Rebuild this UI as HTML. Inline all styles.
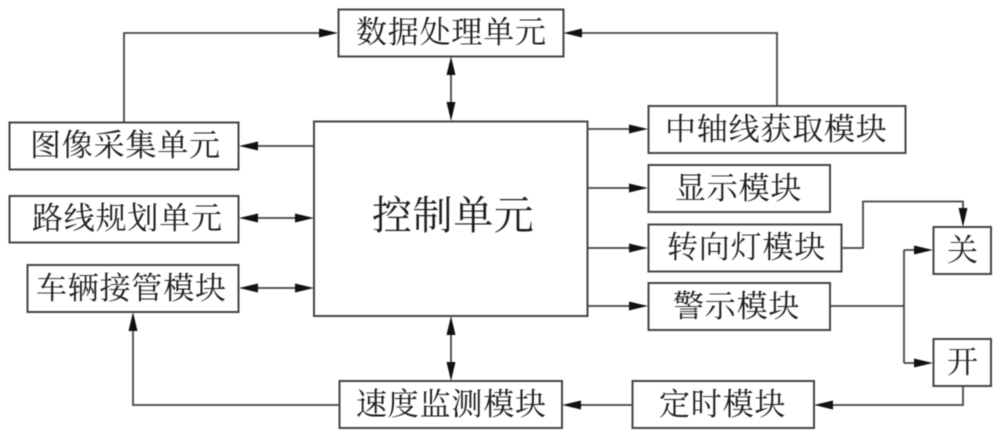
<!DOCTYPE html>
<html><head><meta charset="utf-8">
<style>
html,body{margin:0;padding:0;background:#fff;width:1000px;height:437px;overflow:hidden}
svg{display:block;filter:blur(0.45px)}
rect{fill:#fff;stroke:#444;stroke-width:2}
.l{fill:none;stroke:#444;stroke-width:1.8}
.a{fill:#111;stroke:none}
text{font-family:"Liberation Serif","Noto Serif CJK SC",serif;font-size:31px;fill:#1c1c1c;letter-spacing:0.8px}
</style></head><body>
<svg width="1000" height="437" viewBox="0 0 1000 437" xmlns="http://www.w3.org/2000/svg">
<rect x="338.500" y="9.500" width="225" height="47"/>
<rect x="9.500" y="122.500" width="229" height="47"/>
<rect x="9.500" y="196" width="229" height="46.500"/>
<rect x="27.500" y="265" width="211" height="47"/>
<rect x="314" y="121.500" width="273.500" height="194.500"/>
<rect x="648.500" y="106" width="257" height="47"/>
<rect x="648.500" y="165" width="181.500" height="47"/>
<rect x="648.500" y="224.500" width="193" height="47"/>
<rect x="648.500" y="283" width="181.500" height="47"/>
<rect x="933.500" y="227" width="57.500" height="47"/>
<rect x="933.500" y="339" width="57.500" height="47"/>
<rect x="632.500" y="381" width="181.500" height="47"/>
<rect x="339.500" y="381" width="222.500" height="47"/>

<path class="l" d="M124 122V33H320M777 106V33H580M451 60V117M451 320V377M314 146H256M256 218H296M256 288H296M588 129H632M588 188H632M588 248H632M588 306H632M842 248H863V201.500H963V214M830 306H904M904 250V363M904 250H920M904 363H920M963 386V405H830M632 405H578M339 405H133V330"/>

<g class="a">
<polygon points="338,33 319,28.500 319,37.500"/>
<polygon points="563.500,33 582,28.500 582,37.500"/>
<polygon points="451,56.500 446.500,75 455.500,75"/>
<polygon points="451,121 446.500,102 455.500,102"/>
<polygon points="451,316 446.500,335 455.500,335"/>
<polygon points="451,381 446.500,362 455.500,362"/>
<polygon points="239,146 258,141.500 258,150.500"/>
<polygon points="239,218 258,213.500 258,222.500"/>
<polygon points="314,218 295,213.500 295,222.500"/>
<polygon points="239,288 258,283.500 258,292.500"/>
<polygon points="314,288 295,283.500 295,292.500"/>
<polygon points="648,129 629,124.500 629,133.500"/>
<polygon points="648,188 629,183.500 629,192.500"/>
<polygon points="648,248 629,243.500 629,252.500"/>
<polygon points="648,306 629,301.500 629,310.500"/>
<polygon points="963,227 958.500,208 967.500,208"/>
<polygon points="933,250 914,245.500 914,254.500"/>
<polygon points="933,363 914,358.500 914,367.500"/>
<polygon points="814,405 833,400.500 833,409.500"/>
<polygon points="562,405 581,400.500 581,409.500"/>
<polygon points="133,312 128.500,331 137.500,331"/>
</g>

<text x="356" y="43">数据处理单元</text>
<text x="30" y="156">图像采集单元</text>
<text x="32" y="229">路线规划单元</text>
<text x="36" y="299">车辆接管模块</text>
<text x="372" y="229" style="font-size:40px;letter-spacing:0.6px">控制单元</text>
<text x="665" y="140">中轴线获取模块</text>
<text x="675" y="199">显示模块</text>
<text x="667" y="258">转向灯模块</text>
<text x="673" y="317">警示模块</text>
<text x="947" y="261">关</text>
<text x="947" y="373">开</text>
<text x="659" y="415">定时模块</text>
<text x="356" y="415">速度监测模块</text>
</svg>
</body></html>
